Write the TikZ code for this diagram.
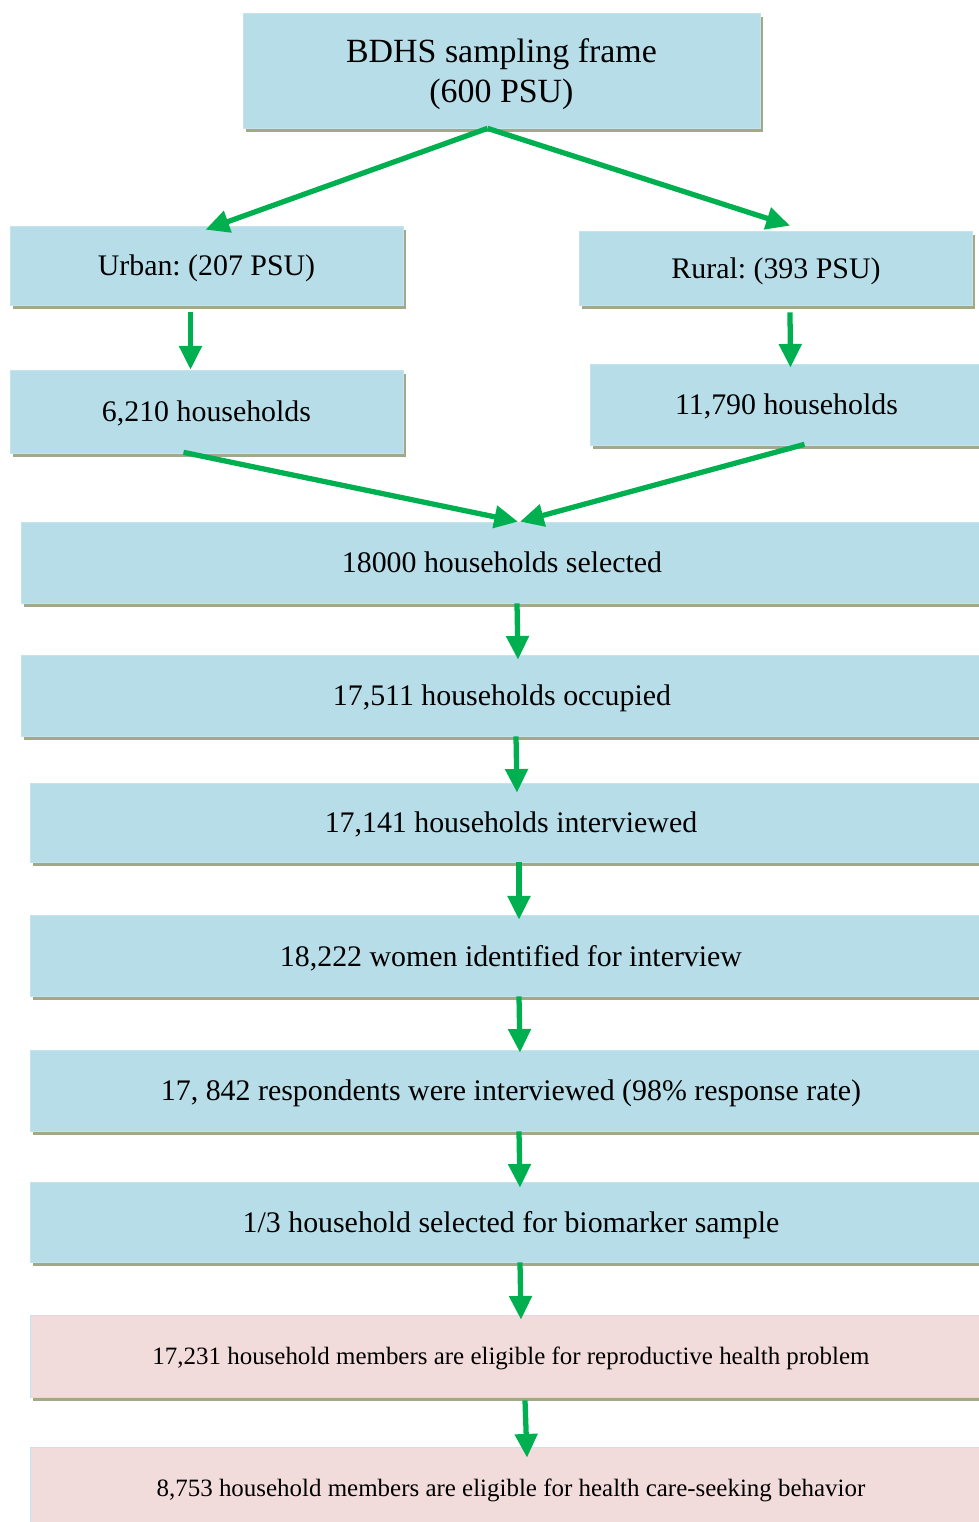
\documentclass[tikz,border=0pt]{standalone}
\usepackage{fontspec}
\setmainfont{Liberation Serif}
\frenchspacing
\usetikzlibrary{arrows.meta, calc, shadows}

\definecolor{boxblue}{HTML}{B7DDE8}
\definecolor{boxpink}{HTML}{F2DCDB}
\definecolor{edgeblue}{HTML}{C4E4EC}
\definecolor{shadowc}{HTML}{A4A88A}
\definecolor{arrgreen}{HTML}{00B050}

\tikzset{
  box/.style={rectangle, fill=boxblue, draw=edgeblue, line width=0.4pt, inner sep=0pt,
    general shadow={fill=shadowc, shadow xshift=1.6pt, shadow yshift=-2.3pt},
    font=\fontsize{17}{20}\selectfont, align=center, text depth=0pt},
  pinkbox/.style={box, fill=boxpink, font=\fontsize{14.2}{17}\selectfont},
  side/.style={minimum width=7.86cm},
  wide/.style={minimum width=19.24cm},
  arr/.style={draw=arrgreen, line width=3pt, -{Triangle[width=12.5pt, length=13.5pt]}}
}

\begin{document}
\begin{tikzpicture}[x=0.02cm, y=-0.02cm]
        \clip (0,0) rectangle (979,1522);

        \node[box, minimum width=10.34cm, minimum height=2.3cm, font=\fontsize{19.3}{23.2}\selectfont]
          (frame) at (501.5,70.5) {BDHS sampling frame\\(600 PSU)};
        \node[box, side, minimum height=1.58cm] (urban) at (206.5,265.5) {Urban: (207 PSU)};
        \node[box, side, minimum height=1.48cm] (rural) at (776,268) {Rural: (393 PSU)};
        \node[box, side, minimum height=1.66cm] (uhh) at (206.5,411.5) {6,210 households};
        \node[box, side, minimum height=1.62cm] (rhh) at (786.5,404.5) {11,790 households};

        \node[box, wide, minimum height=1.62cm] (sel) at (502,562.5) {18000 households selected};
        \node[box, wide, minimum height=1.62cm] (occ) at (502,695.5) {17,511 households occupied};
        \node[box, wide, minimum height=1.58cm] (intv) at (511,822.5) {17,141 households interviewed};
        \node[box, wide, minimum height=1.62cm] (women) at (511,955.5) {18,222 women identified for interview};
        \node[box, wide, minimum height=1.62cm] (resp) at (511,1090.5) {17, 842 respondents were interviewed (98\% response rate)};
        \node[box, wide, minimum height=1.6cm] (bio) at (511,1222) {1/3 household selected for biomarker sample};
        \node[pinkbox, wide, minimum height=1.64cm] (repro) at (511,1356) {17,231 household members are eligible for reproductive health problem};
        \node[pinkbox, wide, minimum height=1.62cm] (care) at (511,1487.5) {8,753 household members are eligible for health care-seeking behavior};

        % arrows
        \draw[arr] ($(frame.south)+(-14,0)$) -- ($(urban.north)+(-1,4)$);
        \draw[arr] ($(frame.south)+(-14,0)$) -- ($(rural.north)+(14,-5)$);
        \draw[arr] ($(urban.south)+(-16,7)$) -- ($(uhh.north)+(-16,0)$);
        \draw[arr] ($(rural.south)+(14,7)$) -- ($(rhh.north)+(4,4)$);
        \draw[arr] ($(uhh.south)+(-23,-1)$) -- ($(sel.north)+(16,0)$);
        \draw[arr] ($(rhh.south)+(18,-1)$) -- ($(sel.north)+(18,0)$);

        \draw[arr] ($(sel.south)+(15,0)$) -- ($(occ.north)+(16,5)$);
        \draw[arr] ($(occ.south)+(14,0)$) -- ($(intv.north)+(6,10)$);
        \draw[arr] ($(intv.south)+(8,0)$) -- ($(women.north)+(8,5)$);
        \draw[arr] ($(women.south)+(8,0)$) -- ($(resp.north)+(9,3)$);
        \draw[arr] ($(resp.south)+(8,0)$) -- ($(bio.north)+(9,6)$);
        \draw[arr] ($(bio.south)+(9,0)$) -- ($(repro.north)+(10,5)$);
        \draw[arr] ($(repro.south)+(14,3)$) -- ($(care.north)+(16,11)$);
\end{tikzpicture}
\end{document}
